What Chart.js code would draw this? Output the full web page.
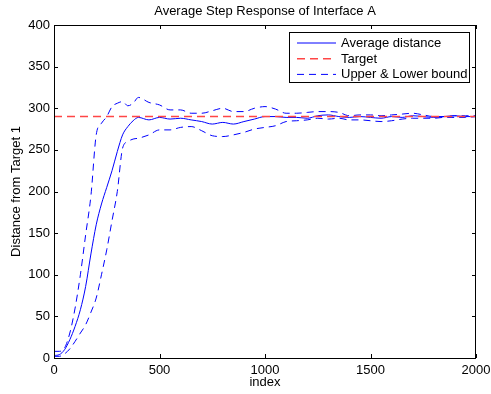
<!DOCTYPE html>
<html lang="en">
<head>
    <meta charset="UTF-8">
    <title>Average Step Response of Interface A</title>
    <script src="https://cdn.jsdelivr.net/npm/chart.js"></script>
    <style>
        body {
            margin: 0;
            background: #fff;
        }
        canvas {
            display: block;
        }
    </style>
</head>
<body>

    <canvas id="stepChart" width="491" height="394"></canvas>

    <script>
        const indexVals = [0, 25, 50, 75, 100, 125, 150, 175, 200, 225, 250, 275, 300, 325, 350, 375, 400, 450, 500, 550, 600, 650, 700, 750, 800, 850, 900, 950, 1000, 1050, 1100, 1150, 1200, 1250, 1300, 1350, 1400, 1450, 1500, 1550, 1600, 1650, 1700, 1750, 1800, 1850, 1900, 1950, 2000];

        const avgDistance = [3, 4, 10, 22, 38, 58, 86, 125, 160, 185, 205, 225, 248, 268, 278, 285, 289, 286, 289, 287, 288, 286, 284, 281, 283, 281, 284, 287, 290, 290, 289, 289, 288, 291, 292, 290, 289, 290, 289, 288, 290, 289, 291, 290, 289, 290, 291, 290, 290];
        const upperBound = [8, 8, 12, 30, 60, 100, 148, 195, 268, 282, 290, 302, 306, 308, 303, 306, 313, 307, 304, 298, 298, 294, 294, 297, 300, 296, 296, 300, 302, 299, 294, 294, 295, 296, 296, 295, 291, 292, 292, 291, 292, 293, 294, 292, 290, 290, 291, 291, 291];
        const lowerBound = [2, 2, 5, 11, 20, 30, 40, 55, 72, 100, 130, 165, 200, 252, 260, 263, 264, 268, 274, 274, 277, 278, 273, 267, 266, 268, 271, 275, 277, 279, 284, 285, 286, 288, 287, 288, 286, 286, 285, 284, 285, 287, 288, 288, 288, 289, 289, 289, 290];
        const targetIndex = [0, 2000];
        const targetVals = [290, 290];

        const xTicks = [0, 500, 1000, 1500, 2000];
        const yTicks = [0, 50, 100, 150, 200, 250, 300, 350, 400];

        const toPoints = (xs, ys) => xs.map((x, i) => ({ x: x, y: ys[i] }));

        const fontFamily = "'Liberation Sans', Arial, Helvetica, sans-serif";

        // box, inward ticks on all four sides, and a MATLAB style legend
        const framePlugin = {
            id: 'frame',
            afterDraw(chart) {
                const ctx = chart.ctx;
                const a = chart.chartArea;
                const xs = chart.scales.x;
                const ys = chart.scales.y;
                ctx.save();
                ctx.strokeStyle = '#000';
                ctx.lineWidth = 1;
                ctx.beginPath();
                xTicks.forEach(v => {
                    const px = Math.round(xs.getPixelForValue(v)) + 0.5;
                    ctx.moveTo(px, a.bottom); ctx.lineTo(px, a.bottom - 4);
                    ctx.moveTo(px, a.top); ctx.lineTo(px, a.top + 4);
                });
                yTicks.forEach(v => {
                    const py = Math.round(ys.getPixelForValue(v)) + 0.5;
                    ctx.moveTo(a.left, py); ctx.lineTo(a.left + 4, py);
                    ctx.moveTo(a.right, py); ctx.lineTo(a.right - 4, py);
                });
                ctx.stroke();
                ctx.strokeRect(Math.round(a.left) + 0.5, Math.round(a.top) + 0.5,
                    Math.round(a.right - a.left) - 1, Math.round(a.bottom - a.top));

                // legend
                const items = chart.data.datasets.filter(d => d.inLegend);
                const bx = 289.5, by = 32.5, bw = 180, bh = 50;
                ctx.fillStyle = '#fff';
                ctx.fillRect(bx, by, bw, bh);
                ctx.strokeStyle = '#000';
                ctx.strokeRect(bx, by, bw, bh);
                ctx.font = '13px ' + fontFamily;
                ctx.textBaseline = 'middle';
                items.forEach((d, i) => {
                    const ry = 43 + i * 15.7;
                    ctx.strokeStyle = d.borderColor;
                    ctx.lineWidth = d.borderWidth;
                    ctx.setLineDash(d.borderDash || []);
                    ctx.beginPath();
                    ctx.moveTo(297, ry);
                    ctx.lineTo(336, ry);
                    ctx.stroke();
                    ctx.setLineDash([]);
                    ctx.fillStyle = '#000';
                    ctx.fillText(d.label, 341, ry + 0.5);
                });
                ctx.restore();
            }
        };

        const ctx = document.getElementById('stepChart').getContext('2d');
        new Chart(ctx, {
            type: 'line',
            data: {
                datasets: [
                    {
                        label: 'Average distance',
                        data: toPoints(indexVals, avgDistance),
                        borderColor: '#0000ff',
                        borderWidth: 1,
                        pointRadius: 0,
                        cubicInterpolationMode: 'monotone',
                        order: 1,
                        inLegend: true
                    },
                    {
                        label: 'Target',
                        data: toPoints(targetIndex, targetVals),
                        borderColor: 'rgb(255, 70, 70)',
                        borderWidth: 1.5,
                        borderDash: [8, 5],
                        pointRadius: 0,
                        order: 0,
                        inLegend: true
                    },
                    {
                        label: 'Upper & Lower bound',
                        data: toPoints(indexVals, upperBound),
                        borderColor: '#0000ff',
                        borderWidth: 1,
                        borderDash: [7, 5],
                        pointRadius: 0,
                        cubicInterpolationMode: 'monotone',
                        order: 2,
                        inLegend: true
                    },
                    {
                        label: 'Lower bound',
                        data: toPoints(indexVals, lowerBound),
                        borderColor: '#0000ff',
                        borderWidth: 1,
                        borderDash: [7, 5],
                        pointRadius: 0,
                        cubicInterpolationMode: 'monotone',
                        order: 3,
                        inLegend: false
                    }
                ]
            },
            options: {
                responsive: false,
                animation: false,
                devicePixelRatio: 1,
                layout: {
                    padding: { left: 0, right: 15, top: 0, bottom: 0 }
                },
                plugins: {
                    legend: { display: false },
                    tooltip: { enabled: false },
                    title: {
                        display: true,
                        fullSize: false,
                        text: 'Average Step Response of Interface A',
                        color: '#000',
                        font: { family: fontFamily, size: 13, weight: 'normal' },
                        padding: { top: 3.4, bottom: 6 }
                    }
                },
                scales: {
                    x: {
                        type: 'linear',
                        min: 0,
                        max: 2000,
                        afterFit: s => { s.height = 36; s.paddingLeft = 0; s.paddingRight = 0; },
                        afterBuildTicks: s => { s.ticks = xTicks.map(v => ({ value: v })); },
                        grid: { display: false, drawTicks: false },
                        border: { display: false },
                        ticks: {
                            color: '#000',
                            padding: 5,
                            maxRotation: 0,
                            autoSkip: false,
                            callback: v => String(v),
                            font: { family: fontFamily, size: 13 }
                        },
                        title: {
                            display: true,
                            text: 'index',
                            color: '#000',
                            font: { family: fontFamily, size: 13 },
                            padding: { top: 0, bottom: 4 }
                        }
                    },
                    y: {
                        type: 'linear',
                        min: 0,
                        max: 400,
                        afterFit: s => { s.width = 54; s.paddingTop = 0; s.paddingBottom = 0; },
                        afterBuildTicks: s => { s.ticks = yTicks.map(v => ({ value: v })); },
                        grid: { display: false, drawTicks: false },
                        border: { display: false },
                        ticks: {
                            color: '#000',
                            padding: 4,
                            autoSkip: false,
                            callback: v => String(v),
                            font: { family: fontFamily, size: 13 }
                        },
                        title: {
                            display: true,
                            text: 'Distance from Target 1',
                            color: '#000',
                            font: { family: fontFamily, size: 13 },
                            padding: { top: 9, bottom: 0 }
                        }
                    }
                }
            },
            plugins: [framePlugin]
        });
    </script>
</body>
</html>
